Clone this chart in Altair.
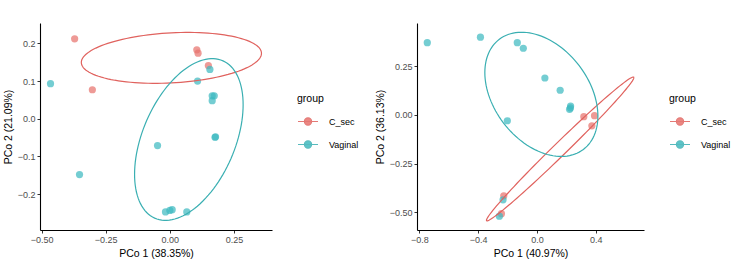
import altair as alt
import numpy as np
import pandas as pd

groups = ["C_sec", "Vaginal"]
point_colors = ["#E8736D", "#3FBAC0"]
line_colors = ["#E0625E", "#3AAFB2"]

# ---- Panel 1 (PCo 1 38.35% / PCo 2 21.09%)
p1_csec_x = [-0.371, -0.302, 0.105, 0.110, 0.150]
p1_csec_y = [0.212, 0.077, 0.183, 0.174, 0.141]
p1_vag_x = [-0.465, -0.352, -0.048, -0.017, 0.000, 0.009, 0.066, 0.108, 0.156, 0.165, 0.173, 0.165, 0.176, 0.178]
p1_vag_y = [0.093, -0.148, -0.071, -0.247, -0.243, -0.241, -0.247, 0.100, 0.131, 0.061, 0.061, 0.048, -0.049, -0.048]
# ellipse: centre x, centre y, half x-extent, half y-extent, correlation
p1_ell_csec = [0.006, 0.1615, 0.351, 0.0675, 0.18]
p1_ell_vag = [0.074, -0.055, 0.2115, 0.2145, 0.43]

# ---- Panel 2 (PCo 1 40.97% / PCo 2 36.13%)
p2_csec_x = [0.319, 0.392, 0.374, -0.226, -0.242]
p2_csec_y = [-0.009, -0.004, -0.056, -0.416, -0.508]
p2_vag_x = [-0.747, -0.385, -0.134, -0.093, 0.054, 0.158, 0.229, 0.222, 0.228, -0.202, -0.231, -0.256]
p2_vag_y = [0.372, 0.400, 0.372, 0.343, 0.190, 0.127, 0.046, 0.029, 0.036, -0.030, -0.437, -0.521]
p2_ell_csec = [0.158, -0.175, 0.502, 0.370, 0.992]
p2_ell_vag = [0.030, 0.106, 0.385, 0.3195, -0.35]

panels = [
    dict(csx=p1_csec_x, csy=p1_csec_y, vgx=p1_vag_x, vgy=p1_vag_y,
         ell=[p1_ell_csec, p1_ell_vag], xt="PCo 1 (38.35%)", yt="PCo 2 (21.09%)",
         xdom=[-0.506, 0.398], ydom=[-0.295, 0.254],
         xticks=[-0.5, -0.25, 0.0, 0.25], yticks=[-0.2, -0.1, 0.0, 0.1, 0.2],
         xfmt=".2f", yfmt=".1f", w=232),
    dict(csx=p2_csec_x, csy=p2_csec_y, vgx=p2_vag_x, vgy=p2_vag_y,
         ell=[p2_ell_csec, p2_ell_vag], xt="PCo 1 (40.97%)", yt="PCo 2 (36.13%)",
         xdom=[-0.817, 0.729], ydom=[-0.592, 0.473],
         xticks=[-0.8, -0.4, 0.0, 0.4], yticks=[-0.5, -0.25, 0.0, 0.25],
         xfmt=".1f", yfmt=".2f", w=227),
]

H = 207
legend_path = "M-1,0L1,0M-0.36,0A0.36,0.36,0,1,1,0.36,0A0.36,0.36,0,1,1,-0.36,0Z"


def ellipse_frame(params, group):
    cx, cy, rx, ry, rho = params
    t = np.linspace(0, 2 * np.pi, 121)
    phi = np.arccos(rho)
    return pd.DataFrame({"x": cx + rx * np.cos(t), "y": cy + ry * np.cos(t - phi),
                         "group": group, "i": np.arange(len(t))})


def make_panel(p):
    pts = pd.concat([
        pd.DataFrame({"x": p["csx"], "y": p["csy"], "group": "C_sec"}),
        pd.DataFrame({"x": p["vgx"], "y": p["vgy"], "group": "Vaginal"}),
    ])
    ell = pd.concat([ellipse_frame(p["ell"][0], "C_sec"), ellipse_frame(p["ell"][1], "Vaginal")])
    xs = alt.X("x:Q", title=p["xt"],
               scale=alt.Scale(domain=p["xdom"], nice=False, zero=False),
               axis=alt.Axis(values=p["xticks"], format=p["xfmt"]))
    ys = alt.Y("y:Q", title=p["yt"],
               scale=alt.Scale(domain=p["ydom"], nice=False, zero=False),
               axis=alt.Axis(values=p["yticks"], format=p["yfmt"]))
    pscale = alt.Scale(domain=groups, range=point_colors)
    lscale = alt.Scale(domain=groups, range=line_colors)
    leg = alt.Legend(title="group", orient="none", legendX=p["w"] + 25, legendY=71,
                     symbolType=legend_path, symbolSize=400, symbolStrokeWidth=1.2,
                     symbolOpacity=0.85, labelOffset=10, rowPadding=6, titlePadding=6,
                     padding=0)
    points = alt.Chart(pts).mark_point(filled=True, size=52, opacity=0.72, strokeWidth=0).encode(
        x=xs, y=ys,
        color=alt.Color("group:N", scale=pscale, legend=leg),
        stroke=alt.Stroke("group:N", scale=lscale, legend=leg),
    )
    lines = alt.Chart(ell).mark_line(strokeWidth=1.2).encode(
        x=xs, y=ys,
        stroke=alt.Stroke("group:N", scale=lscale, legend=None),
        order="i:Q",
    )
    return alt.layer(points, lines).properties(width=p["w"], height=H)


chart = alt.hconcat(make_panel(panels[0]), make_panel(panels[1]), spacing=16).resolve_scale(
    color="independent", stroke="independent", x="independent", y="independent"
).resolve_legend(color="independent", stroke="independent").properties(
    padding={"left": 3, "top": 23, "right": 0, "bottom": 0}
).configure(font="Liberation Sans").configure_view(stroke=None).configure_axis(
    grid=False, domainColor="black", domainWidth=1.1, tickColor="#333333", tickSize=3,
    tickWidth=1, labelColor="#4D4D4D", labelFontSize=9, labelPadding=2,
    titleColor="black", titleFontSize=10.5, titleFontWeight="normal", titlePadding=4,
).configure_legend(titleFontSize=10.5, titleFontWeight="normal", labelFontSize=9,
                   titleColor="black", labelColor="black")

chart.save("out.html", embed_options={"renderer": "svg", "actions": False})
